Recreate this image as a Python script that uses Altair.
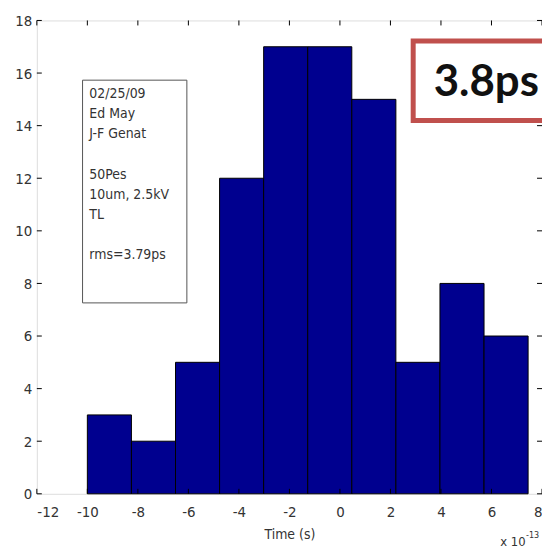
import altair as alt
import pandas as pd

# ---- data ----
bin_edges = [-10.0, -8.255, -6.51, -4.765, -3.02, -1.275, 0.47, 2.215, 3.96, 5.705, 7.45]
counts = [3, 2, 5, 12, 17, 17, 15, 5, 8, 6]
x_ticks = [-12, -10, -8, -6, -4, -2, 0, 2, 4, 6, 8]
y_ticks = [0, 2, 4, 6, 8, 10, 12, 14, 16, 18]
info_blocks = ["02/25/09\nEd May\nJ-F Genat", "50Pes\n10um, 2.5kV\nTL", "rms=3.79ps"]
info_block_y = [15.47, 12.40, 9.34]
big_label = "3.8ps"

W, H = 508, 476
FONT = "Liberation Sans Narrow, DejaVu Sans Condensed, Liberation Sans"

bars = pd.DataFrame({"x0": bin_edges[:-1], "x1": bin_edges[1:], "n": counts})
xt = pd.DataFrame({"t": x_ticks})
yt = pd.DataFrame({"t": y_ticks})

xs = alt.Scale(domain=[-12, 8], nice=False, zero=False)
ys = alt.Scale(domain=[0, 18], nice=False, zero=False)

base_x_axis = alt.Axis(values=x_ticks, grid=False, tickSize=0, domain=False,
                       labelExpr="'' + datum.value",
                       labelFont=FONT, labelFontSize=15, labelColor="#333",
                       labelPadding=11, title="Time (s)", titleFont=FONT,
                       titleFontSize=14, titleFontWeight="normal", titleColor="#333",
                       titlePadding=8)
base_y_axis = alt.Axis(values=y_ticks, grid=False, tickSize=0, domain=False,
                       labelExpr="'' + datum.value",
                       labelFont=FONT, labelFontSize=15, labelColor="#333",
                       labelPadding=5, title=None)

bar_layer = alt.Chart(bars).mark_rect(color="#00008F", stroke="#000000", strokeWidth=1).encode(
    x=alt.X("x0:Q", scale=xs, axis=base_x_axis),
    x2="x1:Q",
    y=alt.Y("n:Q", scale=ys, axis=base_y_axis),
    y2=alt.datum(0),
)

tick_style = dict(color="#000000", strokeWidth=1)
xt_bottom = alt.Chart(xt).mark_rule(**tick_style).encode(
    x=alt.X("t:Q", scale=xs), y=alt.value(H), y2=alt.value(H - 5))
xt_top = alt.Chart(xt).mark_rule(**tick_style).encode(
    x=alt.X("t:Q", scale=xs), y=alt.value(0), y2=alt.value(5))
yt_left = alt.Chart(yt).mark_rule(**tick_style).encode(
    y=alt.Y("t:Q", scale=ys), x=alt.value(0), x2=alt.value(5))
yt_right = alt.Chart(yt).mark_rule(**tick_style).encode(
    y=alt.Y("t:Q", scale=ys), x=alt.value(W), x2=alt.value(W - 5))

# info box (data coordinates)
info_box = alt.Chart(pd.DataFrame({"a": [-10.19], "b": [-6.06], "c": [15.73], "d": [7.26]})).mark_rect(
    fill="white", stroke="#555555", strokeWidth=1).encode(
    x=alt.X("a:Q", scale=xs), x2="b:Q", y=alt.Y("c:Q", scale=ys), y2="d:Q")
info_text = alt.Chart(pd.DataFrame({"txt": info_blocks, "y": info_block_y, "x": [-9.92] * 3})).mark_text(
    align="left", baseline="top", lineBreak="\n", lineHeight=20.3, font=FONT, fontSize=14,
    color="#333").encode(x=alt.X("x:Q", scale=xs), y=alt.Y("y:Q", scale=ys), text="txt:N")

# highlighted value box
big_box = alt.Chart(pd.DataFrame({"a": [2.9], "b": [9.5], "c": [17.22], "d": [14.2]})).mark_rect(
    fill="white", stroke="#C0504D", strokeWidth=5, clip=False).encode(
    x=alt.X("a:Q", scale=xs), x2="b:Q", y=alt.Y("c:Q", scale=ys), y2="d:Q")
big_text = alt.Chart(pd.DataFrame({"txt": [big_label], "x": [3.71], "y": [15.13]})).mark_text(
    align="left", baseline="alphabetic", font="Lato", fontWeight="bold", fontSize=44,
    color="#111111", clip=False).encode(
    x=alt.X("x:Q", scale=xs), y=alt.Y("y:Q", scale=ys), text="txt:N")

# exponent label
exp_base = alt.Chart(pd.DataFrame({"txt": ["x 10"]})).mark_text(
    align="left", baseline="alphabetic", font=FONT, fontSize=13, color="#333").encode(
    x=alt.value(W - 42), y=alt.value(H + 52), text="txt:N")
exp_sup = alt.Chart(pd.DataFrame({"txt": ["-13"]})).mark_text(
    align="left", baseline="alphabetic", font=FONT, fontSize=9, color="#333").encode(
    x=alt.value(W - 16), y=alt.value(H + 44), text="txt:N")

chart = alt.layer(
    bar_layer, xt_bottom, xt_top, yt_left, yt_right, info_box, info_text,
    big_box, big_text, exp_base, exp_sup
).properties(
    width=W, height=H,
    autosize=alt.AutoSizeParams(type="none"),
    padding={"left": 29, "top": 11, "right": 0, "bottom": 60},
).configure_view(
    stroke="#9a9a9a", strokeWidth=1.5
).configure(background="white")

chart.save("out.html", embed_options={"renderer": "svg", "actions": False})
